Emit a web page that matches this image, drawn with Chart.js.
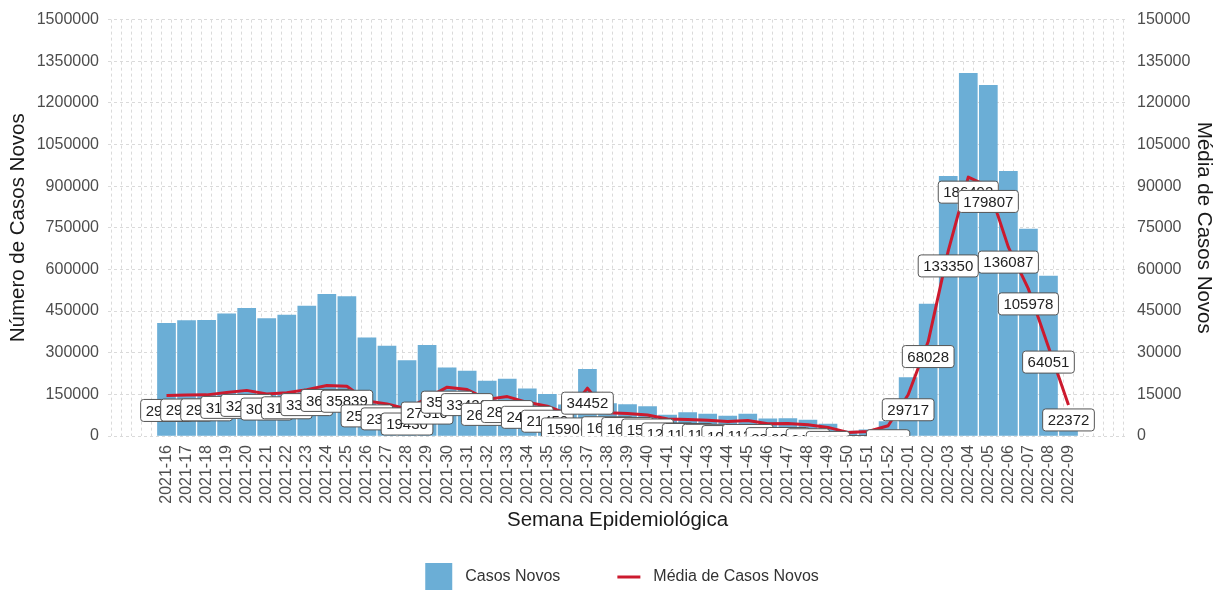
<!DOCTYPE html>
<html>
<head>
<meta charset="utf-8">
<script src="https://cdn.jsdelivr.net/npm/chart.js@4.4.1/dist/chart.umd.min.js"></script>
<style>
  html, body { margin: 0; padding: 0; background: #fff; }
</style>
</head>
<body>
<canvas id="casosChart" width="1221" height="590"></canvas>
<script>
'use strict'

// semanas epidemiológicas
const semanas = [
  "2021-16", "2021-17", "2021-18", "2021-19", "2021-20", "2021-21", "2021-22", "2021-23",
  "2021-24", "2021-25", "2021-26", "2021-27", "2021-28", "2021-29", "2021-30", "2021-31",
  "2021-32", "2021-33", "2021-34", "2021-35", "2021-36", "2021-37", "2021-38", "2021-39",
  "2021-40", "2021-41", "2021-42", "2021-43", "2021-44", "2021-45", "2021-46", "2021-47",
  "2021-48", "2021-49", "2021-50", "2021-51", "2021-52", "2022-01", "2022-02", "2022-03",
  "2022-04", "2022-05", "2022-06", "2022-07", "2022-08", "2022-09"
];

// casos novos por semana (barras, eixo esquerdo)
const casosNovos = [
  406000, 416000, 417000, 440000, 460000, 423000, 436000, 468000,
  510000, 502000, 354000, 324000, 272000, 327000, 246000, 234000,
  198000, 205000, 170000, 150000, 112000, 240000, 117000, 113000,
  106000, 75000, 84000, 79000, 72000, 79000, 62000, 63000,
  57000, 43000, 18000, 22000, 52000, 210000, 475000, 935000,
  1306000, 1263000, 953000, 745000, 576000, 22000
];

// média de casos novos (linha, eixo direito)
const mediaCasos = [
  29214, 29480, 29630, 31420, 32870, 30210, 31130, 33420,
  36430, 35839, 25290, 23140, 19430, 27310, 35170, 33420,
  26380, 28410, 24260, 21450, 15906, 34452, 16740, 16180,
  15120, 12300, 11900, 11300, 10400, 11200, 8900, 9000,
  8100, 6200, 2600, 3200, 7400, 29717, 68028, 133350,
  186492, 179807, 136087, 105978, 64051, 22372
];

const corBarra = "#6BAED6";
const corLinha = "#CC1A2E";
const fonte = '"Liberation Sans", Arial, sans-serif';

// desenhos da legenda
function amostraLegenda(tipo) {
  const c = document.createElement("canvas");
  c.width = 79;
  c.height = 28;
  const g = c.getContext("2d");
  if (tipo === "barra") {
    g.fillStyle = corBarra;
    g.fillRect(47, 0, 27, 28);
  } else {
    g.strokeStyle = corLinha;
    g.lineWidth = 3;
    g.beginPath();
    g.moveTo(51, 14);
    g.lineTo(74, 14);
    g.stroke();
  }
  return c;
}
const amostras = [amostraLegenda("barra"), amostraLegenda("linha")];

// rótulos com caixa para a média
const rotulosMedia = {
  id: "rotulosMedia",
  afterDatasetsDraw(chart) {
    const meta = chart.getDatasetMeta(1);
    const area = chart.chartArea;
    const ctx = chart.ctx;
    ctx.save();
    ctx.beginPath();
    ctx.rect(area.left, area.top, area.right - area.left, area.bottom - area.top);
    ctx.clip();
    ctx.font = "15px " + fonte;
    ctx.textAlign = "center";
    ctx.textBaseline = "middle";
    meta.data.forEach((pt, i) => {
      const txt = String(mediaCasos[i]);
      const w = ctx.measureText(txt).width + 10;
      const h = 22;
      const cx = pt.x;
      const cy = pt.y + 15;
      ctx.beginPath();
      ctx.roundRect(cx - w / 2, cy - h / 2, w, h, 3);
      ctx.fillStyle = "#fff";
      ctx.fill();
      ctx.lineWidth = 1;
      ctx.strokeStyle = "#555";
      ctx.stroke();
      ctx.fillStyle = "#222";
      ctx.fillText(txt, cx, cy + 1);
    });
    ctx.restore();
  }
};

const eixoGrade = { color: "#dadada", lineWidth: 1, drawTicks: false };
const eixoBorda = { display: false, dash: [3, 3] };

// largura da barra: 90% da distância entre semanas
function larguraBarra(ctx) {
  const s = ctx.chart.scales.x;
  return (s.getPixelForValue(1) - s.getPixelForValue(0)) * 0.9;
}

new Chart(document.getElementById("casosChart"), {
  data: {
    datasets: [{
      type: "bar",
      label: "Casos Novos",
      data: casosNovos.map((v, i) => ({ x: i, y: v })),
      backgroundColor: corBarra,
      barThickness: larguraBarra,
      xAxisID: "x",
      yAxisID: "y",
      order: 1
    }, {
      type: "line",
      label: "Média de Casos Novos",
      data: mediaCasos.map((v, i) => ({ x: i, y: v })),
      borderColor: corLinha,
      backgroundColor: corLinha,
      borderWidth: 3,
      pointRadius: 0,
      tension: 0,
      borderJoinStyle: "round",
      xAxisID: "x",
      yAxisID: "y1",
      order: 0
    }]
  },
  options: {
    responsive: false,
    animation: false,
    layout: { padding: { top: 16, left: -24, right: 0, bottom: -5 } },
    scales: {
      x: {
        type: "linear",
        min: -8 / 3,
        max: semanas.length - 1 + 8 / 3,
        grid: eixoGrade,
        border: eixoBorda,
        ticks: {
          stepSize: 0.5,
          includeBounds: false,
          autoSkip: false,
          minRotation: 90,
          maxRotation: 90,
          padding: 9,
          color: "#4d4d4d",
          font: { family: fonte, size: 16 },
          callback: (v) => Number.isInteger(v) && semanas[v] ? semanas[v] : ""
        },
        title: {
          display: true,
          text: "Semana Epidemiológica",
          color: "#1a1a1a",
          font: { family: fonte, size: 20.5 },
          padding: { top: 0, bottom: 30 }
        },
        afterFit: (s) => { s.height = 127; }
      },
      y: {
        position: "left",
        min: 0,
        max: 1500000,
        grid: eixoGrade,
        border: eixoBorda,
        ticks: {
          stepSize: 75000,
          padding: 9,
          color: "#4d4d4d",
          font: { family: fonte, size: 16 },
          callback: (v) => v % 150000 === 0 ? String(v) : ""
        },
        title: {
          display: true,
          text: "Número de Casos Novos",
          color: "#1a1a1a",
          font: { family: fonte, size: 20.5 },
          padding: { top: 30, bottom: 0 }
        },
        afterFit: (s) => { s.width = 132; }
      },
      y1: {
        position: "right",
        min: 0,
        max: 300000,
        grid: { display: false, drawTicks: false },
        border: { display: false },
        ticks: {
          stepSize: 30000,
          padding: 10,
          color: "#4d4d4d",
          font: { family: fonte, size: 16 },
          callback: (v) => String(v / 2)
        },
        title: {
          display: true,
          text: "Média de Casos Novos",
          color: "#1a1a1a",
          font: { family: fonte, size: 20.5 },
          padding: { top: 5, bottom: 0 }
        },
        afterFit: (s) => { s.width = 94; }
      }
    },
    plugins: {
      legend: {
        position: "bottom",
        labels: {
          usePointStyle: true,
          pointStyleWidth: 79,
          padding: 6,
          color: "#333",
          font: { family: fonte, size: 16 },
          generateLabels(chart) {
            const itens = Chart.defaults.plugins.legend.labels.generateLabels(chart);
            itens.forEach((it) => { it.pointStyle = amostras[it.datasetIndex]; });
            return itens.sort((a, b) => a.datasetIndex - b.datasetIndex);
          }
        }
      },
      tooltip: { enabled: false }
    }
  },
  plugins: [rotulosMedia]
});
</script>
</body>
</html>
